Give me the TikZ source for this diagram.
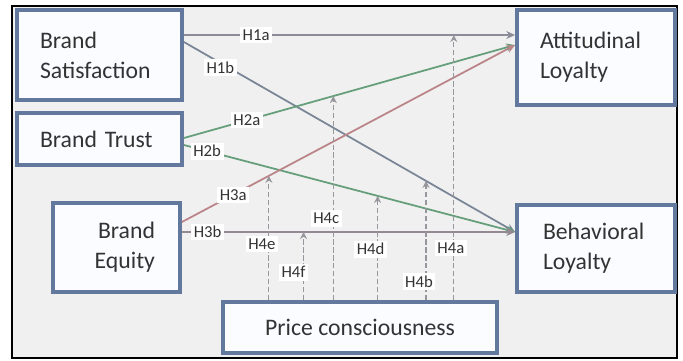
\documentclass[tikz,border=0pt]{standalone}
\usepackage{fontspec}
\setmainfont{Carlito}
\usetikzlibrary{arrows.meta}

\definecolor{boxblue}{RGB}{98,120,156}
\definecolor{boxfill}{RGB}{250,252,255}
\definecolor{panel}{RGB}{240,240,240}
\definecolor{cgray}{RGB}{140,140,152}
\definecolor{cslate}{RGB}{122,134,150}
\definecolor{cgreen}{RGB}{100,158,122}
\definecolor{cred}{RGB}{186,132,136}
\definecolor{cmauve}{RGB}{150,136,146}
\definecolor{modgray}{RGB}{150,150,156}

\tikzset{
  construct/.style={draw=boxblue, line width=2.2pt, fill=boxfill, text=black!80,
    font=\fontsize{13.5}{17}\selectfont},
  hyp/.style={line width=1pt, -{Stealth[length=5pt,width=4.5pt]}},
  moder/.style={draw=modgray, line width=0.7pt, dash pattern=on 3pt off 1.5pt,
    -{Stealth[length=4pt,width=4pt]}},
  hlabel/.style={fill=white, inner sep=1.5pt, text=black!80,
    font=\fontsize{9.5}{11}\selectfont},
  mlabel/.style={hlabel, xshift=-0.14cm}
}

\begin{document}
\begin{tikzpicture}[x=0.02cm, y=-0.02cm]

\fill[white] (0,0) rectangle (683,361);
\draw[line width=1.5pt, fill=panel] (12,6) rectangle (677,358);

% constructs
\node (sat) at (99.5,55) [construct, minimum width=3.3cm, minimum height=1.8cm,
  text width=2.38cm, inner xsep=0.46cm, align=left] {Brand\\Satisfaction};
\node (trust) at (99.5,139) [construct, minimum width=3.3cm, minimum height=1.04cm,
  text width=2.38cm, inner xsep=0.46cm, align=left] {Brand Trust};
\node (equity) at (116.5,247.5) [construct, minimum width=2.54cm, minimum height=1.78cm,
  text width=1.54cm, inner xsep=0.5cm, align=right] {Brand\\Equity};
\node (att) at (596,57.5) [construct, minimum width=3.16cm, minimum height=1.9cm,
  text width=2.24cm, inner xsep=0.46cm, align=left] {Attitudinal\\Loyalty};
\node (beh) at (596,248.5) [construct, minimum width=3.16cm, minimum height=1.74cm,
  text width=2.12cm, inner xsep=0.52cm, align=left] {Behavioral\\Loyalty};
\node (price) at (360,327.5) [construct, minimum width=5.48cm, minimum height=1.02cm]
  {Price consciousness};

% direct effects
\draw[hyp, draw=cgray] ([yshift=0.4cm]sat.east) -- ([yshift=0.45cm]att.west)
  coordinate[pos=0.815] (m1a) node[hlabel, pos=0.218] {H1a};
\draw[hyp, draw=cslate] ([yshift=0.26cm]sat.east) -- ([yshift=0.33cm]beh.west)
  coordinate[pos=0.731] (m1b) node[hlabel, pos=0.11, yshift=-0.1cm] {H1b};
\draw[hyp, draw=cgreen] ([yshift=0.02cm]trust.east) -- ([yshift=0.25cm]att.west)
  coordinate[pos=0.451] (m2a) node[hlabel, pos=0.19] {H2a};
\draw[hyp, draw=cgreen] ([yshift=-0.12cm]trust.east) -- ([yshift=0.33cm]beh.west)
  coordinate[pos=0.585] (m2b) node[hlabel, pos=0.07] {H2b};
\draw[hyp, draw=cred] ([yshift=0.51cm]equity.east) -- ([yshift=0.25cm]att.west)
  coordinate[pos=0.261] (m3a) node[hlabel, pos=0.154] {H3a};
\draw[hyp, draw=cmauve] ([yshift=0.31cm]equity.east) -- ([yshift=0.33cm]beh.west)
  coordinate[pos=0.365] (m3b) node[hlabel, pos=0.077] {H3b};

% moderation by price consciousness
\draw[moder] (price.north -| m1a) -- (m1a) node[mlabel, pos=0.195, xshift=0.08cm] {H4a};
\draw[moder] (price.north -| m1b) -- (m1b) node[mlabel, pos=0.157] {H4b};
\draw[moder] (price.north -| m2a) -- (m2a) node[mlabel, pos=0.40] {H4c};
\draw[moder] (price.north -| m2b) -- (m2b) node[mlabel, pos=0.49] {H4d};
\draw[moder] (price.north -| m3a) -- (m3a) node[mlabel, pos=0.45] {H4e};
\draw[moder] (price.north -| m3b) -- (m3b) node[mlabel, pos=0.41, xshift=-0.06cm] {H4f};

\end{tikzpicture}
\end{document}
